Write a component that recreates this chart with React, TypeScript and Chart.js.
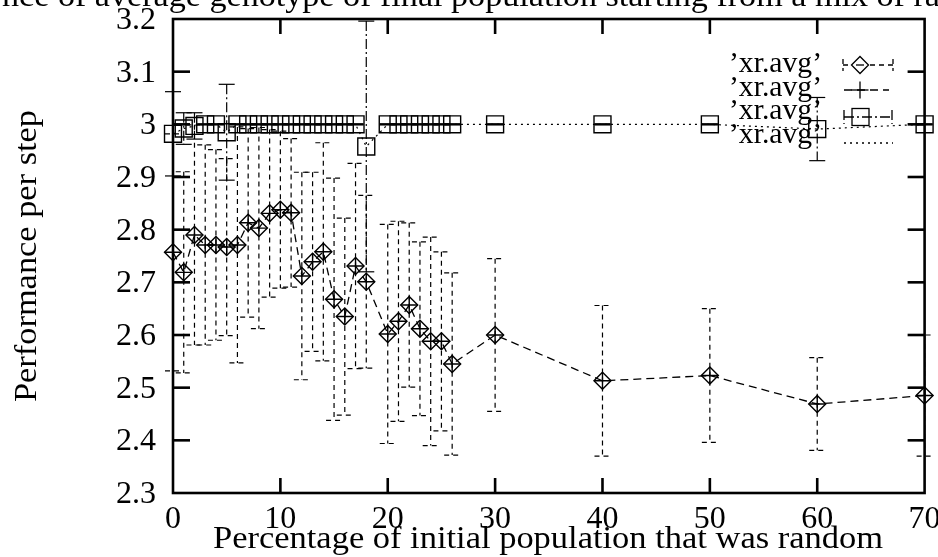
import React, { useEffect, useRef } from "react";
import { Chart, registerables } from "chart.js";

Chart.register(...registerables);

// ---- data ----
const xPercent = [0, 1, 2, 3, 4, 5, 6, 7, 8, 9, 10, 11, 12, 13, 14, 15, 16, 17, 18, 20, 21, 22, 23, 24, 25, 26, 30, 40, 50, 60, 70];
const avgMeans = [2.757, 2.719, 2.79, 2.771, 2.771, 2.767, 2.771, 2.813, 2.803, 2.831, 2.838, 2.832, 2.712, 2.739, 2.758, 2.668, 2.635, 2.731, 2.701, 2.602, 2.626, 2.657, 2.612, 2.588, 2.588, 2.545, 2.6, 2.513, 2.523, 2.469, 2.485];
const avgDeltas = [0.225, 0.191, 0.209, 0.19, 0.181, 0.168, 0.224, 0.179, 0.191, 0.159, 0.149, 0.141, 0.197, 0.17, 0.207, 0.23, 0.187, 0.195, 0.164, 0.208, 0.19, 0.156, 0.165, 0.198, 0.17, 0.173, 0.145, 0.143, 0.127, 0.088, 0.115];
const bestMeans = [2.982, 2.992, 2.997, 3, 3, 2.985, 3, 3, 3, 3, 3, 3, 3, 3, 3, 3, 3, 3, 2.958, 3, 3, 3, 3, 3, 3, 3, 3, 3, 3, 2.991, 3];
const bestDeltas = [0.08, 0.03, 0.025, 0, 0, 0.091, 0, 0, 0, 0, 0, 0, 0, 0, 0, 0, 0, 0, 0.238, 0, 0, 0, 0, 0, 0, 0, 0, 0, 0, 0.06, 0];

const xTicks = [0, 10, 20, 30, 40, 50, 60, 70];
const xTickLabels = ["0", "10", "20", "30", "40", "50", "60", "70"];
const yTicks = [2.3, 2.4, 2.5, 2.6, 2.7, 2.8, 2.9, 3, 3.1, 3.2];
const yTickLabels = ["2.3", "2.4", "2.5", "2.6", "2.7", "2.8", "2.9", "3", "3.1", "3.2"];

const titleText = "nce of average genotype of final population starting from a mix of ra";
const xTitle = "Percentage of initial population that was random";
const yTitle = "Performance per step";
const legendLabels = ["\u2019xr.avg\u2019", "\u2019xr.avg\u2019", "\u2019xr.avg\u2019", "\u2019xr.avg\u2019"];

const FONT = "'Liberation Serif', 'Times New Roman', serif";

function seg(ctx: CanvasRenderingContext2D, x1: number, y1: number, x2: number, y2: number) {
  ctx.beginPath();
  ctx.moveTo(x1, y1);
  ctx.lineTo(x2, y2);
  ctx.stroke();
}

function fitText(
  ctx: CanvasRenderingContext2D,
  text: string,
  x: number,
  y: number,
  width: number,
  align: CanvasTextAlign,
  rotate = false
) {
  ctx.save();
  ctx.translate(x, y);
  if (rotate) ctx.rotate(-Math.PI / 2);
  const w = ctx.measureText(text).width;
  ctx.scale(width / w, 1);
  ctx.textAlign = align;
  ctx.textBaseline = "alphabetic";
  ctx.fillText(text, 0, 0);
  ctx.restore();
}

const decorPlugin = {
  id: "decor",
  beforeDatasetsDraw(chart: any) {
    const ctx: CanvasRenderingContext2D = chart.ctx;
    const xs = chart.scales.x;
    const ys = chart.scales.y;
    ctx.save();
    ctx.strokeStyle = "#000";
    ctx.lineWidth = 1.2;
    // dashed error bars of the average series
    xPercent.forEach((xv, i) => {
      const px = xs.getPixelForValue(xv);
      const hi = ys.getPixelForValue(avgMeans[i] + avgDeltas[i]);
      const lo = ys.getPixelForValue(avgMeans[i] - avgDeltas[i]);
      ctx.setLineDash([5, 4]);
      seg(ctx, px, hi, px, lo);
      seg(ctx, px - 8, hi, px + 8, hi);
      seg(ctx, px - 8, lo, px + 8, lo);
    });
    // dash-dot error bars of the best series
    xPercent.forEach((xv, i) => {
      const px = xs.getPixelForValue(xv);
      const hi = ys.getPixelForValue(bestMeans[i] + bestDeltas[i]);
      const lo = ys.getPixelForValue(bestMeans[i] - bestDeltas[i]);
      ctx.setLineDash([10, 3, 2, 3]);
      if (bestDeltas[i] > 0) seg(ctx, px, hi, px, lo);
      ctx.setLineDash([]);
      ctx.lineWidth = bestDeltas[i] > 0 ? 1.2 : 2;
      seg(ctx, px - 8, hi, px + 8, hi);
      seg(ctx, px - 8, lo, px + 8, lo);
      ctx.lineWidth = 1.2;
    });
    ctx.restore();
  },
  afterDraw(chart: any) {
    const ctx: CanvasRenderingContext2D = chart.ctx;
    const ca = chart.chartArea;
    const xs = chart.scales.x;
    const ys = chart.scales.y;
    ctx.save();
    ctx.strokeStyle = "#000";
    ctx.fillStyle = "#000";
    ctx.setLineDash([]);
    // frame
    ctx.lineWidth = 2.6;
    ctx.strokeRect(ca.left, ca.top, ca.right - ca.left, ca.bottom - ca.top);
    // inward ticks on all sides
    xTicks.forEach((v, i) => {
      if (i === 0 || i === xTicks.length - 1) return;
      const px = xs.getPixelForValue(v);
      seg(ctx, px, ca.bottom, px, ca.bottom - 15);
      seg(ctx, px, ca.top, px, ca.top + 15);
    });
    yTicks.forEach((v, i) => {
      if (i === 0 || i === yTicks.length - 1) return;
      const py = ys.getPixelForValue(v);
      seg(ctx, ca.left, py, ca.left + 17, py);
      seg(ctx, ca.right, py, ca.right - 17, py);
    });
    // tick labels
    ctx.font = `32px ${FONT}`;
    ctx.textBaseline = "alphabetic";
    ctx.textAlign = "center";
    xTicks.forEach((v, i) => {
      ctx.fillText(xTickLabels[i], xs.getPixelForValue(v), ca.bottom + 35);
    });
    ctx.textAlign = "right";
    yTicks.forEach((v, i) => {
      ctx.fillText(yTickLabels[i], ca.left - 17, ys.getPixelForValue(v) + 10);
    });
    // titles
    ctx.font = `31px ${FONT}`;
    fitText(ctx, titleText, 2, 6, 938, "left");
    fitText(ctx, xTitle, 548, 548, 670, "center");
    fitText(ctx, yTitle, 36, 256, 292, "center", true);
    // legend
    ctx.font = `30px ${FONT}`;
    const rowsText = [72, 96, 119, 143];
    legendLabels.forEach((lab, i) => fitText(ctx, lab, 822, rowsText[i], 93, "right"));
    ctx.lineWidth = 1.3;
    // row 1: errorbar sample with diamond
    let y = 65;
    ctx.setLineDash([5, 4]);
    seg(ctx, 843, y, 893, y);
    seg(ctx, 843, y - 6, 843, y + 6);
    seg(ctx, 893, y - 6, 893, y + 6);
    ctx.setLineDash([]);
    ctx.beginPath();
    ctx.moveTo(860 - 8.5, y);
    ctx.lineTo(860, y - 8.5);
    ctx.lineTo(860 + 8.5, y);
    ctx.lineTo(860, y + 8.5);
    ctx.closePath();
    ctx.fillStyle = "#fff";
    ctx.fill();
    ctx.stroke();
    ctx.fillStyle = "#000";
    seg(ctx, 856, y, 864, y);
    // row 2: long dashed line with plus
    y = 90;
    ctx.setLineDash([8, 5]);
    seg(ctx, 844, y, 889, y);
    ctx.setLineDash([]);
    seg(ctx, 860 - 8.5, y, 860 + 8.5, y);
    seg(ctx, 860, y - 8.5, 860, y + 8.5);
    // row 3: dash-dot errorbar with square
    y = 117;
    ctx.setLineDash([10, 3, 2, 3]);
    seg(ctx, 844, y, 892, y);
    seg(ctx, 844, y - 7, 844, y + 7);
    seg(ctx, 892, y - 7, 892, y + 7);
    ctx.setLineDash([]);
    ctx.strokeRect(852, y - 8.5, 17, 17);
    // row 4: dotted
    y = 143;
    ctx.setLineDash([2, 4]);
    seg(ctx, 844, y, 893, y);
    ctx.restore();
  },
};

export default function App() {
  const ref = useRef<HTMLCanvasElement>(null);
  useEffect(() => {
    const canvas = ref.current;
    if (!canvas) return;
    const avgPts = xPercent.map((x, i) => ({ x, y: avgMeans[i] }));
    const bestPts = xPercent.map((x, i) => ({ x, y: bestMeans[i] }));
    const chart = new Chart(canvas, {
      type: "scatter",
      data: {
        datasets: [
          {
            label: legendLabels[0],
            data: avgPts,
            pointStyle: "rectRot",
            pointRadius: 8.5,
            pointBorderWidth: 1.4,
            borderColor: "#000",
            backgroundColor: "rgba(0,0,0,0)",
            showLine: false,
            clip: false,
          } as any,
          {
            label: legendLabels[1],
            data: avgPts,
            pointStyle: "cross",
            pointRadius: 8.5,
            pointBorderWidth: 1.4,
            borderColor: "#000",
            backgroundColor: "rgba(0,0,0,0)",
            borderWidth: 1.3,
            borderDash: [8, 5],
            showLine: true,
            clip: false,
          } as any,
          {
            label: legendLabels[2],
            data: bestPts,
            pointStyle: "rect",
            pointRadius: 12,
            pointBorderWidth: 1.4,
            borderColor: "#000",
            backgroundColor: "rgba(0,0,0,0)",
            showLine: false,
            clip: false,
          } as any,
          {
            label: legendLabels[3],
            data: bestPts,
            pointRadius: 0,
            borderColor: "#000",
            borderWidth: 1.2,
            borderDash: [2, 4],
            showLine: true,
            clip: false,
          } as any,
        ],
      },
      options: {
        animation: false,
        responsive: false,
        devicePixelRatio: 1,
        events: [],
        layout: { padding: { top: 19, right: 13, left: 173, bottom: 64 } },
        plugins: {
          legend: { display: false },
          tooltip: { enabled: false },
          title: { display: false },
        },
        scales: {
          x: { type: "linear", min: 0, max: 70, display: false },
          y: { type: "linear", min: 2.3, max: 3.2, display: false },
        },
      } as any,
      plugins: [decorPlugin],
    });
    return () => chart.destroy();
  }, []);
  return (
    <canvas
      ref={ref}
      width={938}
      height={557}
      style={{ position: "fixed", left: 0, top: 0, width: 938, height: 557 }}
    />
  );
}
